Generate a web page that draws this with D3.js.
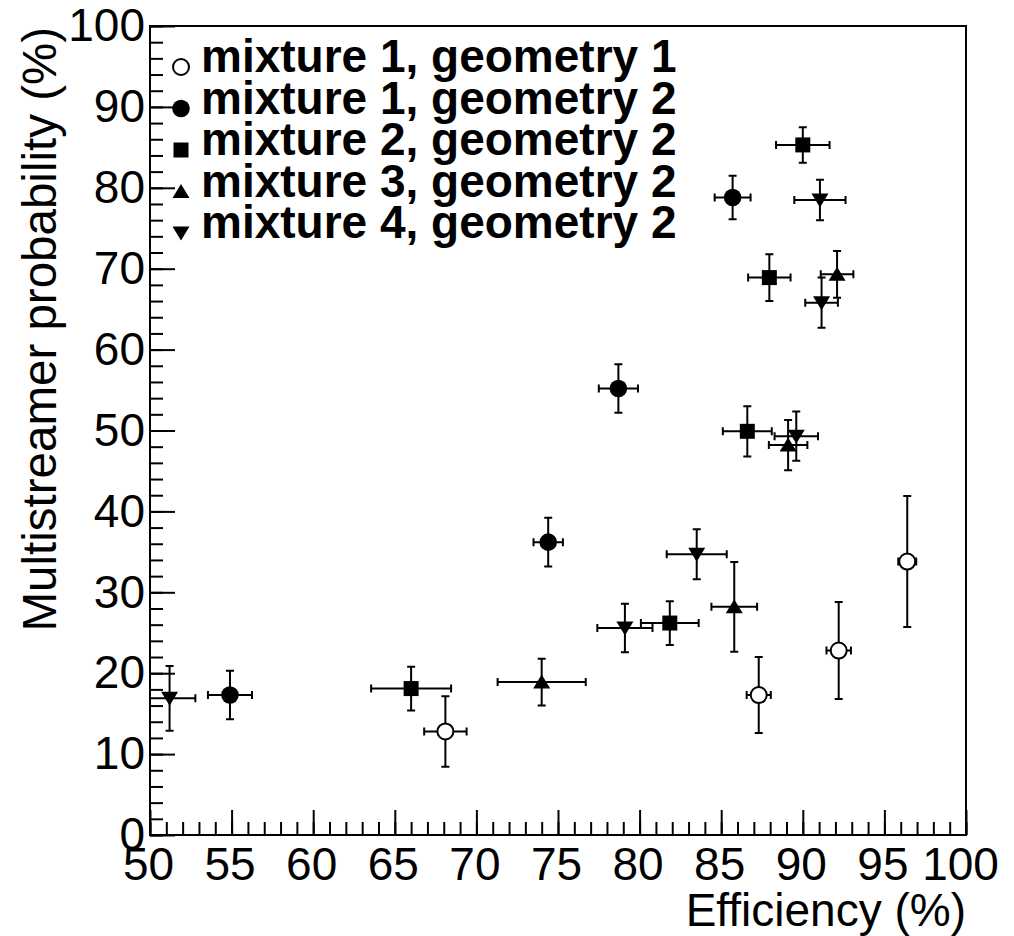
<!DOCTYPE html>
<html>
<head>
<meta charset="utf-8">
<script src="https://cdn.jsdelivr.net/npm/d3@7"></script>
<style>
  body { margin: 0; background: #fff; }
  svg { display: block; font-family: "Liberation Sans", Arial, sans-serif; }
</style>
</head>
<body>
<div id="chart"></div>
<script>
// Values: efficiency x, probability y, errors ex / ey (all in %)
const m1g1_x = [68.1, 87.3, 92.2, 96.4];
const m1g1_y = [12.8, 17.3, 22.8, 33.8];
const m1g1_ex = [1.3, 0.74, 0.75, 0.55];
const m1g1_ey = [4.35, 4.7, 6.0, 8.1];

const m1g2_x = [54.9, 74.4, 78.7, 85.7];
const m1g2_y = [17.3, 36.2, 55.2, 78.8];
const m1g2_ex = [1.35, 0.9, 1.2, 1.1];
const m1g2_ey = [3.0, 3.0, 3.0, 2.7];

const m2g2_x = [66.0, 81.85, 86.6, 87.95, 90.0];
const m2g2_y = [18.1, 26.2, 49.9, 68.9, 85.3];
const m2g2_ex = [2.45, 1.77, 1.5, 1.3, 1.64];
const m2g2_ey = [2.7, 2.7, 3.1, 2.9, 2.2];

const m3g2_x = [74.0, 85.8, 89.1, 92.1];
const m3g2_y = [18.9, 28.2, 48.2, 69.3];
const m3g2_ex = [2.7, 1.4, 1.18, 1.0];
const m3g2_ey = [2.9, 5.55, 3.1, 2.9];

const m4g2_x = [51.2, 79.1, 83.5, 89.6, 91.15, 91.05];
const m4g2_y = [16.9, 25.6, 34.7, 49.3, 65.8, 78.5];
const m4g2_ex = [1.58, 1.69, 1.84, 1.33, 1.0, 1.57];
const m4g2_ey = [4.0, 3.0, 3.1, 3.05, 3.1, 2.5];

const seriesNames = [
    "mixture 1, geometry 1",
    "mixture 1, geometry 2",
    "mixture 2, geometry 2",
    "mixture 3, geometry 2",
    "mixture 4, geometry 2"
];
const seriesMarkers = ["openCircle", "circle", "square", "triangleUp", "triangleDown"];

const xTicks = [50, 55, 60, 65, 70, 75, 80, 85, 90, 95, 100];
const yTicks = [0, 10, 20, 30, 40, 50, 60, 70, 80, 90, 100];
const xTitle = "Efficiency (%)";
const yTitle = "Multistreamer probability (%)";

function makeSeries(xs, ys, exs, eys) {
    return xs.map((x, i) => ({ x, y: ys[i], ex: exs[i], ey: eys[i] }));
}

const series = [
    makeSeries(m1g1_x, m1g1_y, m1g1_ex, m1g1_ey),
    makeSeries(m1g2_x, m1g2_y, m1g2_ex, m1g2_ey),
    makeSeries(m2g2_x, m2g2_y, m2g2_ex, m2g2_ey),
    makeSeries(m3g2_x, m3g2_y, m3g2_ex, m3g2_ey),
    makeSeries(m4g2_x, m4g2_y, m4g2_ex, m4g2_ey)
].map((points, i) => ({ name: seriesNames[i], marker: seriesMarkers[i], points }));

// marker outline centred on (0,0)
function markerPath(type) {
    switch (type) {
        case "square": return "M-7.5,-7.5H7.5V7.5H-7.5Z";
        case "triangleUp": return "M0,-7.5L8.5,6.5H-8.5Z";
        case "triangleDown": return "M0,7.5L8.5,-6.5H-8.5Z";
        default: return null;
    }
}

function drawMarker(g, type) {
    if (type === "openCircle") {
        g.append("circle").attr("r", 8).attr("fill", "#fff").attr("stroke", "#000").attr("stroke-width", 2);
    } else if (type === "circle") {
        g.append("circle").attr("r", 8.8).attr("fill", "#000");
    } else {
        g.append("path").attr("d", markerPath(type)).attr("fill", "#000");
    }
}

function drawChart() {
    const W = 1014, H = 936;
    const margin = { top: 26, right: 48, bottom: 101, left: 150 };
    const width = W - margin.left - margin.right;
    const height = H - margin.top - margin.bottom;

    const svg = d3.select("#chart")
        .append("svg")
        .attr("width", W)
        .attr("height", H)
        .append("g")
        .attr("transform", `translate(${margin.left},${margin.top})`);

    const x = d3.scaleLinear().domain([50, 100]).range([0, width]);
    const y = d3.scaleLinear().domain([0, 100]).range([height, 0]);

    // minor ticks (inside the frame)
    svg.append("g")
        .attr("transform", `translate(0,${height})`)
        .call(d3.axisBottom(x).tickValues(d3.range(50, 101, 1)).tickSize(-13).tickFormat(""))
        .call(g => g.select(".domain").remove());
    svg.append("g")
        .call(d3.axisLeft(y).tickValues(d3.range(0, 101, 2)).tickSize(-13).tickFormat(""))
        .call(g => g.select(".domain").remove());

    // major ticks + labels
    const xAxis = svg.append("g")
        .attr("transform", `translate(0,${height})`)
        .call(d3.axisBottom(x).tickValues(xTicks).tickSize(-25).tickPadding(12).tickFormat(d3.format("d")));
    xAxis.select(".domain").remove();
    xAxis.selectAll(".tick text")
        .attr("font-size", 46)
        .attr("fill", "#000")
        .attr("font-family", "Liberation Sans, Arial, sans-serif")
        .attr("dx", d => d === 100 ? -6 : -2);

    const yAxis = svg.append("g")
        .call(d3.axisLeft(y).tickValues(yTicks).tickSize(-25).tickPadding(5).tickFormat(d3.format("d")));
    yAxis.select(".domain").remove();
    yAxis.selectAll(".tick text")
        .attr("font-size", 46)
        .attr("fill", "#000")
        .attr("font-family", "Liberation Sans, Arial, sans-serif");

    svg.selectAll(".tick line").attr("stroke", "#000").attr("stroke-width", 2);

    // frame
    svg.append("rect")
        .attr("width", width)
        .attr("height", height)
        .attr("fill", "none")
        .attr("stroke", "#000")
        .attr("stroke-width", 2);

    // axis titles
    svg.append("text")
        .attr("x", width)
        .attr("y", height + 91)
        .attr("text-anchor", "end")
        .attr("font-size", 46)
        .text(xTitle);

    svg.append("text")
        .attr("transform", `translate(${56 - margin.left},1) rotate(-90)`)
        .attr("text-anchor", "end")
        .attr("font-size", 47.5)
        .text(yTitle);

    // error bars, clipped to the frame
    svg.append("clipPath").attr("id", "frame-clip")
        .append("rect").attr("width", width).attr("height", height);

    const plot = svg.append("g").attr("clip-path", "url(#frame-clip)");
    const cap = 4;

    series.forEach(s => {
        const bars = plot.append("g")
            .attr("stroke", "#000")
            .attr("stroke-width", 2)
            .attr("fill", "none");

        s.points.forEach(p => {
            const cx = x(p.x), cy = y(p.y);
            const x0 = x(p.x - p.ex), x1 = x(p.x + p.ex);
            const y0 = y(p.y - p.ey), y1 = y(p.y + p.ey);
            bars.append("path")
                .attr("d", `M${x0},${cy}H${x1}M${cx},${y0}V${y1}` +
                    `M${x0},${cy - cap}V${cy + cap}M${x1},${cy - cap}V${cy + cap}` +
                    `M${cx - cap},${y0}H${cx + cap}M${cx - cap},${y1}H${cx + cap}`);
        });
    });

    series.forEach(s => {
        plot.append("g")
            .selectAll("g")
            .data(s.points)
            .join("g")
            .attr("transform", d => `translate(${x(d.x)},${y(d.y)})`)
            .each(function () { drawMarker(d3.select(this), s.marker); });
    });

    // legend
    const legend = svg.selectAll(".legend")
        .data(series)
        .join("g")
        .attr("class", "legend")
        .attr("transform", (d, i) => `translate(31,${46 + i * 41.5})`);

    legend.append("g")
        .attr("transform", "translate(0,-5)")
        .each(function (d) { drawMarker(d3.select(this), d.marker); });

    legend.append("text")
        .attr("x", 20)
        .attr("y", 0)
        .attr("font-size", 46)
        .attr("font-weight", "bold")
        .text(d => d.name);
}

drawChart();
</script>
</body>
</html>
